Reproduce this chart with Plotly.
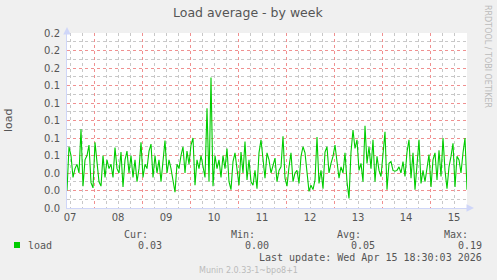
import pandas as pd
import plotly.graph_objects as go

# ---- data -------------------------------------------------------------
start_time = "2026-04-07 10:30"
end_time = "2026-04-15 18:30"
load_values = [
    0.02, 0.07, 0.06, 0.035, 0.045, 0.05, 0.04, 0.09, 0.025, 0.055,
    0.06, 0.072, 0.029, 0.023, 0.075, 0.055, 0.03, 0.025, 0.06, 0.035,
    0.055, 0.045, 0.05, 0.035, 0.069, 0.045, 0.04, 0.064, 0.024, 0.055,
    0.065, 0.04, 0.06, 0.035, 0.055, 0.03, 0.045, 0.075, 0.035, 0.05,
    0.045, 0.065, 0.073, 0.035, 0.06, 0.04, 0.055, 0.03, 0.05, 0.077,
    0.04, 0.055, 0.045, 0.03, 0.018, 0.05, 0.045, 0.06, 0.07, 0.04,
    0.065, 0.05, 0.072, 0.08, 0.026, 0.055, 0.045, 0.06, 0.045, 0.035,
    0.114, 0.03, 0.149, 0.025, 0.06, 0.045, 0.055, 0.035, 0.06, 0.045,
    0.068, 0.030, 0.021, 0.053, 0.063, 0.043, 0.026, 0.064, 0.040, 0.076,
    0.032, 0.055, 0.030, 0.026, 0.043, 0.022, 0.063, 0.078, 0.055, 0.034,
    0.063, 0.055, 0.040, 0.049, 0.057, 0.030, 0.043, 0.047, 0.082, 0.034,
    0.025, 0.047, 0.063, 0.030, 0.040, 0.043, 0.028, 0.059, 0.070, 0.063,
    0.043, 0.019,
    0.026, 0.021, 0.032, 0.081, 0.028, 0.043, 0.022, 0.064, 0.070, 0.040,
    0.051, 0.059, 0.072, 0.051, 0.034, 0.047, 0.040, 0.063, 0.030, 0.011,
    0.064, 0.089, 0.068, 0.078, 0.043, 0.051, 0.030, 0.094, 0.051, 0.070,
    0.045, 0.078, 0.030, 0.059, 0.043, 0.036, 0.063, 0.087, 0.021, 0.051,
    0.053, 0.043,
    0.042, 0.043, 0.047, 0.040, 0.053, 0.036, 0.064, 0.078, 0.034, 0.063,
    0.021, 0.051, 0.078, 0.028, 0.043, 0.030, 0.047, 0.061, 0.024, 0.055,
    0.063, 0.032, 0.066, 0.036, 0.080, 0.043, 0.022, 0.047, 0.059, 0.074,
    0.024, 0.059, 0.055, 0.040, 0.063, 0.080, 0.021,
]
series_name = "load"
stat_labels = ["Cur:", "Min:", "Avg:", "Max:"]
stat_values = ["0.03", "0.00", "0.05", "0.19"]
title_text = "Load average - by week"
y_title = "load"
last_update = "Last update: Wed Apr 15 18:30:03 2026"
footer_text = "Munin 2.0.33-1~bpo8+1"
watermark = "RRDTOOL / TOBI OETIKER"

times = pd.date_range(end=end_time, periods=len(load_values), freq="h")

# minor grid positions (6-hourly / 0.01), excluding the major grid positions
x_minor = [t for t in pd.date_range("2026-04-07", "2026-04-16", freq="6h")
           if t.hour != 0]
y_minor = [round(0.01 + 0.02 * i, 2) for i in range(10)]

# ---- layout geometry (pixels) -----------------------------------------
W, H = 497, 280
PL, PR, PT, PB = 67, 467, 33, 208


def px(x):
    return (x - PL) / (PR - PL)


def py(y):
    return (PB - y) / (PB - PT)


FONT = "DejaVu Sans"
MONO = "DejaVu Sans Mono"
TXT = "#555555"
MGRID = "#F09090"
GRID = "#C8C8C8"
AXIS = "#CFD6F8"
DASH = "dot"

fig = go.Figure()
# empty trace so the minor-grid overlay axes exist
fig.add_trace(go.Scatter(x=[], y=[], xaxis="x2", yaxis="y2",
                         showlegend=False, hoverinfo="skip"))
fig.add_trace(go.Scatter(
    x=times, y=load_values, mode="lines", name=series_name,
    line=dict(color="#00CC00", width=1.1), showlegend=False,
))

ann = []


def text(x, y, s, size, color=TXT, family=FONT, xanchor="center", angle=0):
    ann.append(dict(x=px(x), y=py(y), xref="paper", yref="paper", text=s,
                    showarrow=False, xanchor=xanchor, yanchor="middle",
                    textangle=angle,
                    font=dict(family=family, size=size, color=color)))


text(248, 13, title_text, 12.5)
text(8, 120, y_title, 11, angle=-90)
text(488, 56, watermark, 8, color="#BBBBBB", angle=90)
text(26, 245, series_name, 10, family=MONO, xanchor="left")
for lab, val, xr in zip(stat_labels, stat_values, [150, 257, 363, 470]):
    text(xr, 234, lab, 10, family=MONO, xanchor="right")
    text(xr + 14, 245, val, 10, family=MONO, xanchor="right")
text(484, 257, last_update, 10, family=MONO, xanchor="right")
text(248, 270, footer_text, 8, color="#BBBBBB")

# axis arrows
ann.append(dict(x=px(PL), y=py(PT - 6), xref="paper", yref="paper",
                ax=0, ay=8, text="", showarrow=True, arrowhead=2,
                arrowsize=1, arrowwidth=1.5, arrowcolor=AXIS))
ann.append(dict(x=px(PR + 7), y=py(PB), xref="paper", yref="paper",
                ax=-8, ay=0, text="", showarrow=True, arrowhead=2,
                arrowsize=1, arrowwidth=1.5, arrowcolor=AXIS))

shapes = [dict(type="rect", xref="paper", yref="paper",
               x0=px(14), x1=px(20), y0=py(248), y1=py(242),
               fillcolor="#00CC00", line=dict(width=0))]

fig.update_layout(
    width=W, height=H,
    margin=dict(l=PL, r=W - PR, t=PT, b=H - PB, pad=0),
    paper_bgcolor="#F0F0F0", plot_bgcolor="#FFFFFF",
    annotations=ann, shapes=shapes, showlegend=False,
    font=dict(family=FONT, size=10, color=TXT),
    xaxis=dict(
        type="date", range=[start_time, end_time],
        tick0="2026-04-07", dtick=86400000, tickformat="%d",
        ticklabelmode="period", ticks="",
        showgrid=True, gridcolor=MGRID, griddash=DASH, gridwidth=1,
        showline=True, linecolor=AXIS, linewidth=1,
        tickfont=dict(family=FONT, size=10, color=TXT),
        fixedrange=True,
    ),
    xaxis2=dict(
        type="date", overlaying="x", matches="x",
        tickmode="array", tickvals=x_minor, showticklabels=False, ticks="",
        showgrid=True, gridcolor=GRID, griddash=DASH, gridwidth=1,
        showline=False, fixedrange=True,
    ),
    yaxis=dict(
        range=[0, 0.2], tick0=0, dtick=0.02, tickformat=".1f", ticks="",
        showgrid=True, gridcolor=MGRID, griddash=DASH, gridwidth=1,
        showline=True, linecolor=AXIS, linewidth=1, zeroline=False,
        ticklabelstandoff=4,
        tickfont=dict(family=FONT, size=10, color=TXT),
        fixedrange=True,
    ),
    yaxis2=dict(
        overlaying="y", matches="y", range=[0, 0.2],
        tickmode="array", tickvals=y_minor, showticklabels=False, ticks="",
        showgrid=True, gridcolor=GRID, griddash=DASH, gridwidth=1,
        showline=False, zeroline=False, fixedrange=True,
    ),
)

fig.write_html("out.html", config={"displayModeBar": False})
